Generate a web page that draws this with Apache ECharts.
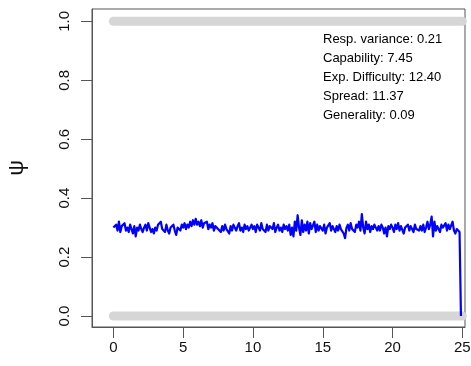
<!DOCTYPE html>
<html>
<head>
<meta charset="utf-8">
<script src="https://cdn.jsdelivr.net/npm/echarts@6/dist/echarts.min.js"></script>
<style>
  html, body { margin: 0; padding: 0; background: #fff; }
  #chart { width: 471px; height: 366px; }
</style>
</head>
<body>
<div id="chart"></div>
<script>
// ticks
const xTicks = [0, 5, 10, 15, 20, 25]
const yTicks = [0, 0.2, 0.4, 0.6, 0.8, 1.0]

// psi trace, sampled every 0.1 from 0 to 24.8, then the final drop
const psiStep = 0.1
const psiValues = [
  0.30, 0.295, 0.31, 0.29, 0.32, 0.285, 0.305, 0.30, 0.315, 0.29,
  0.30, 0.285, 0.31, 0.295, 0.28, 0.305, 0.27, 0.30, 0.29, 0.31,
  0.295, 0.285, 0.30, 0.31, 0.29, 0.315, 0.30, 0.285, 0.295, 0.28,
  0.30, 0.29, 0.31, 0.305, 0.32, 0.295, 0.30, 0.285, 0.31, 0.29,
  0.28, 0.30, 0.295, 0.31, 0.29, 0.275, 0.30, 0.305, 0.29, 0.31,
  0.30, 0.315, 0.295, 0.31, 0.30, 0.32, 0.305, 0.325, 0.31, 0.33,
  0.31, 0.32, 0.305, 0.325, 0.30, 0.315, 0.31, 0.32, 0.295, 0.31,
  0.30, 0.315, 0.29, 0.305, 0.31, 0.295, 0.30, 0.285, 0.305, 0.29,
  0.31, 0.295, 0.30, 0.28, 0.305, 0.29, 0.31, 0.30, 0.29, 0.305,
  0.315, 0.29, 0.30, 0.285, 0.31, 0.295, 0.305, 0.29, 0.30, 0.31,
  0.295, 0.305, 0.285, 0.31, 0.30, 0.29, 0.315, 0.295, 0.30, 0.285,
  0.31, 0.29, 0.305, 0.30, 0.295, 0.315, 0.285, 0.30, 0.31, 0.29,
  0.30, 0.285, 0.31, 0.295, 0.305, 0.29, 0.31, 0.275, 0.30, 0.27,
  0.32, 0.29, 0.342, 0.30, 0.275, 0.325, 0.285, 0.31, 0.29, 0.32,
  0.28, 0.315, 0.295, 0.30, 0.32, 0.285, 0.31, 0.29, 0.305, 0.30,
  0.29, 0.31, 0.28, 0.30, 0.295, 0.315, 0.29, 0.305, 0.30, 0.285,
  0.305, 0.29, 0.31, 0.295, 0.30, 0.28, 0.264, 0.30, 0.31, 0.29,
  0.315, 0.295, 0.30, 0.285, 0.31, 0.30, 0.32, 0.29, 0.346, 0.30,
  0.28, 0.32, 0.295, 0.31, 0.285, 0.305, 0.295, 0.31, 0.30, 0.29,
  0.305, 0.29, 0.31, 0.30, 0.28, 0.30, 0.27, 0.305, 0.295, 0.31,
  0.30, 0.285, 0.31, 0.295, 0.315, 0.29, 0.305, 0.30, 0.28, 0.30,
  0.295, 0.31, 0.29, 0.305, 0.30, 0.285, 0.31, 0.295, 0.30, 0.29,
  0.305, 0.29, 0.31, 0.285, 0.30, 0.32, 0.295, 0.31, 0.337, 0.27,
  0.32, 0.29, 0.305, 0.30, 0.285, 0.31, 0.30, 0.295, 0.315, 0.29,
  0.31, 0.295, 0.30, 0.32, 0.29, 0.28, 0.295, 0.30, 0.285
]
const dropX = 24.9
const dropY = 0.0

// responses drawn as grey bands at 0 and 1
const bandX = [0, 25]
const bandLow = [0, 0]
const bandHigh = [1, 1]

const statLines = [
  'Resp. variance: 0.21',
  'Capability: 7.45',
  'Exp. Difficulty: 12.40',
  'Spread: 11.37',
  'Generality: 0.09'
]

const psiData = psiValues.map((v, i) => [+(i * psiStep).toFixed(1), v])
psiData.push([dropX, dropY])

const font = 'Liberation Sans, Arial, sans-serif'
const axisColor = '#555'

const chart = echarts.init(document.getElementById('chart'), null, { renderer: 'canvas' })
chart.setOption({
  animation: false,
  grid: {
    left: 92, right: 6, top: 9, bottom: 39,
    show: true, borderColor: axisColor, borderWidth: 1,
    containLabel: false, outerBoundsMode: 'none'
  },
  xAxis: {
    type: 'value', min: -1.53, max: 25.19,
    splitLine: { show: false },
    axisLine: { show: true, onZero: false, lineStyle: { color: axisColor } },
    axisTick: { show: true, length: 11, lineStyle: { color: axisColor }, customValues: xTicks },
    axisLabel: { color: '#111', fontSize: 15, fontFamily: font, margin: 13, customValues: xTicks }
  },
  yAxis: {
    type: 'value', min: -0.0374, max: 1.042,
    name: 'ψ', nameLocation: 'middle', nameRotate: 90, nameGap: 64,
    nameTextStyle: { fontSize: 22, color: '#111', fontFamily: font },
    splitLine: { show: false },
    axisLine: { show: true, onZero: false, lineStyle: { color: axisColor } },
    axisTick: { show: true, length: 11, lineStyle: { color: axisColor }, customValues: yTicks },
    axisLabel: {
      color: '#111', fontSize: 15, fontFamily: font, rotate: 90, margin: 20,
      customValues: yTicks, formatter: v => v.toFixed(1)
    }
  },
  graphic: statLines.map((t, i) => ({
    type: 'text', left: 323, top: 33 + i * 19,
    style: { text: t, fontSize: 13, fontFamily: font, fill: '#000' }
  })),
  series: [
    {
      type: 'line', symbol: 'none', silent: true,
      data: bandX.map((x, i) => [x, bandLow[i]]),
      lineStyle: { color: '#d6d6d6', width: 9, cap: 'round' }
    },
    {
      type: 'line', symbol: 'none', silent: true,
      data: bandX.map((x, i) => [x, bandHigh[i]]),
      lineStyle: { color: '#d6d6d6', width: 9, cap: 'round' }
    },
    {
      type: 'line', symbol: 'none', silent: true,
      data: psiData,
      lineStyle: { color: '#0000ff', width: 2.2, join: 'round' }
    }
  ]
})
</script>
</body>
</html>
